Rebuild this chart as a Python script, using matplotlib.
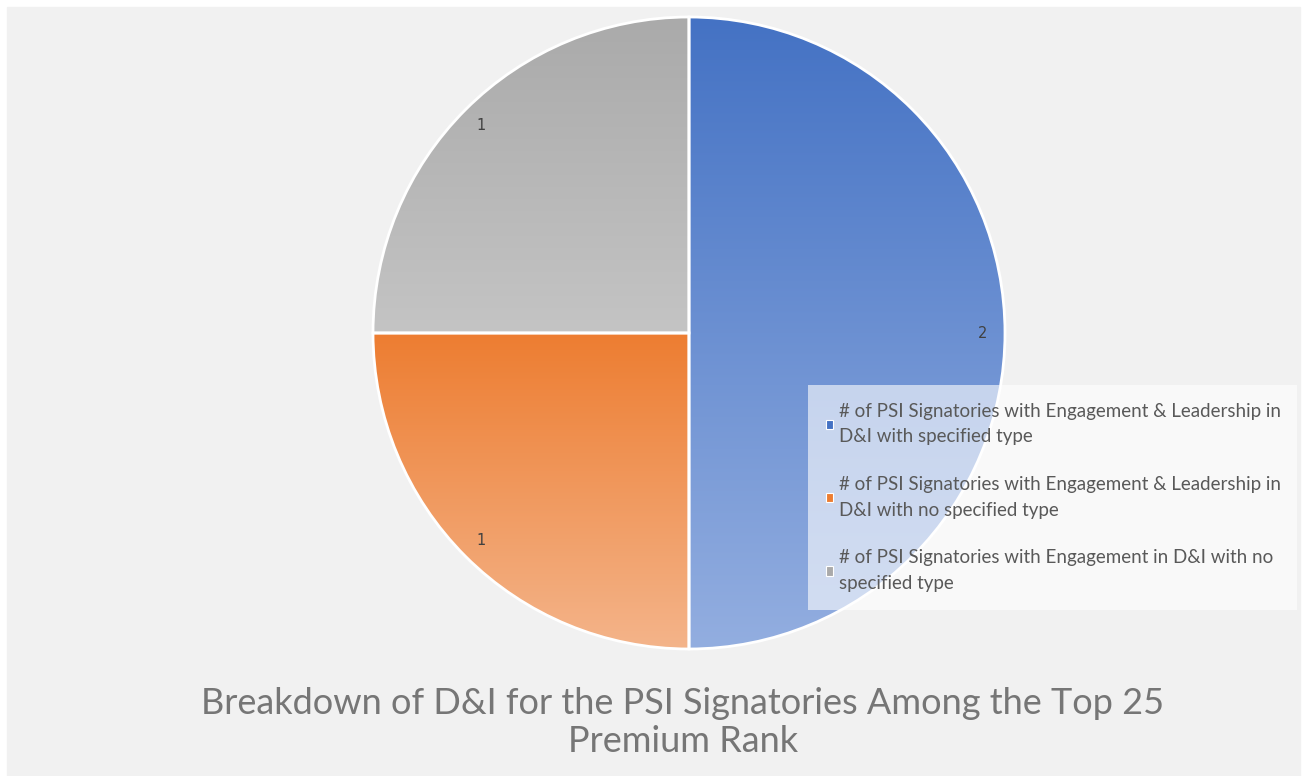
import numpy as np
import matplotlib
matplotlib.use('Agg')
import matplotlib.pyplot as plt
from matplotlib.colors import LinearSegmentedColormap
from matplotlib.patches import Rectangle

labels = ['# of PSI Signatories with Engagement & Leadership in\nD&I with specified type',
          '# of PSI Signatories with Engagement & Leadership in\nD&I with no specified type',
          '# of PSI Signatories with Engagement in D&I with no\nspecified type']
counts = [2, 1, 1]
top_colors = ['#4472c4', '#ed7d31', '#aaaaaa']
bottom_colors = ['#93aee0', '#f4b48a', '#c4c4c4']
title_lines = ['Breakdown of D&I for the PSI Signatories Among the Top 25', 'Premium Rank']

W, H = 1307, 776
fig = plt.figure(figsize=(W / 100, H / 100), dpi=100, facecolor='white')

# light grey chart area with a thin white margin on top/left
fig.patches.append(Rectangle((7 / W, 0), (W - 14) / W, (H - 7) / H,
                             transform=fig.transFigure, color='#f1f1f1', zorder=-5))

cx, cy, r = 689, 333, 316
ax = fig.add_axes([(cx - r) / W, (H - cy - r) / H, 2 * r / W, 2 * r / H])
ax.set_facecolor('none')

total = sum(counts)
wedges, texts, autotexts = ax.pie(
    counts, colors=top_colors, startangle=90, counterclock=False,
    autopct=lambda p: f'{p * total / 100:.0f}', pctdistance=0.93,
    wedgeprops=dict(edgecolor='white', linewidth=2),
    textprops=dict(color='#404040', fontsize=10.5))

# vertical gradient inside each wedge, darker on top
for w, c0, c1 in zip(wedges, top_colors, bottom_colors):
    cmap = LinearSegmentedColormap.from_list('g', [c1, c0])
    grad = np.linspace(0, 1, 256).reshape(-1, 1)
    bb = w.get_path().get_extents(w.get_patch_transform())
    im = ax.imshow(grad, cmap=cmap, origin='lower', aspect='auto',
                   extent=[bb.x0, bb.x1, bb.y0, bb.y1], zorder=1)
    im.set_clip_path(w)
    w.set_facecolor('none')
    w.set_zorder(2)
for t in autotexts:
    t.set_zorder(3)

ax.set_xlim(-1, 1)
ax.set_ylim(-1, 1)
ax.set_aspect('equal')
ax.axis('off')

leg = fig.legend(wedges, labels, loc='upper left',
                 bbox_to_anchor=(808 / W, 1 - 610 / H, 489 / W, 225 / H),
                 mode='expand', frameon=True, fancybox=False, framealpha=0.6,
                 facecolor='white', edgecolor='none', prop=dict(family='Lato', size=13.5),
                 labelcolor='#595959', handlelength=0.4, handleheight=0.4,
                 handletextpad=0.3, labelspacing=1.65, borderpad=0.95, borderaxespad=0)
for h, c in zip(leg.legend_handles, top_colors):
    h.set_facecolor(c)
    h.set_edgecolor('white')
    h.set_linewidth(0.8)
for t in leg.get_texts():
    t.set_linespacing(1.6)

for line, y in zip(title_lines, [703, 741]):
    fig.text(683 / W, 1 - y / H, line, ha='center', va='center', fontsize=26,
             family='Lato', color='#767676')

fig.savefig('out.png', dpi=100, facecolor=fig.get_facecolor())
